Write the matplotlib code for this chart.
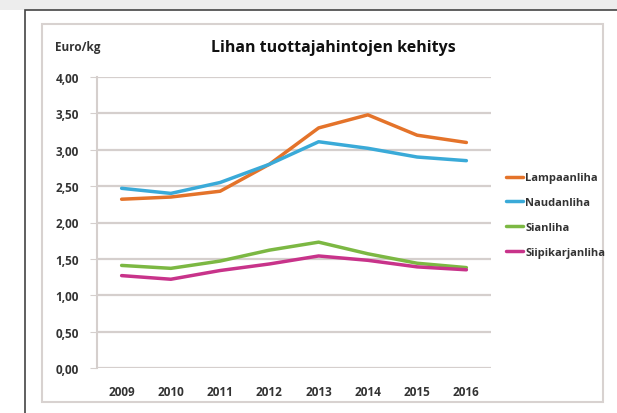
import matplotlib
matplotlib.use("Agg")
import matplotlib.pyplot as plt
from matplotlib.patches import Rectangle

years = ["2009", "2010", "2011", "2012", "2013", "2014", "2015", "2016"]
series_names = ["Lampaanliha", "Naudanliha", "Sianliha", "Siipikarjanliha"]
lampaanliha = [2.32, 2.35, 2.43, 2.80, 3.30, 3.48, 3.20, 3.10]
naudanliha = [2.47, 2.40, 2.55, 2.80, 3.11, 3.02, 2.90, 2.85]
sianliha = [1.41, 1.37, 1.47, 1.62, 1.73, 1.57, 1.44, 1.38]
siipikarjanliha = [1.27, 1.22, 1.34, 1.43, 1.54, 1.48, 1.39, 1.35]
colors = ["#E4732A", "#3AAAD8", "#7CB843", "#C8338A"]
yticks = [0.0, 0.5, 1.0, 1.5, 2.0, 2.5, 3.0, 3.5, 4.0]

W, H = 617, 414
fig = plt.figure(figsize=(W / 100, H / 100), dpi=100, facecolor="white")
plt.rcParams['font.family'] = ['Open Sans', 'DejaVu Sans']

# background strip and frames
fig.patches.append(Rectangle((0, 1 - 11 / H), 1, 11 / H, transform=fig.transFigure,
                             facecolor="#ededed", edgecolor="none", zorder=-2))
fig.patches.append(Rectangle((25 / W, -0.1), 1.0, (H - 11) / H + 0.1, transform=fig.transFigure,
                             facecolor="white", edgecolor="#444444", linewidth=1.2, zorder=-2))
fig.patches.append(Rectangle((42 / W, 11 / H), (603 - 42) / W, (389 - 11) / H, transform=fig.transFigure,
                             facecolor="none", edgecolor="#d8d2d0", linewidth=1.5, zorder=-1))

ax_left, ax_right = 97, 491
ax_top, ax_bottom = 78, 369
ax = fig.add_axes([ax_left / W, 1 - ax_bottom / H, (ax_right - ax_left) / W, (ax_bottom - ax_top) / H])
ax.set_facecolor("none")
ax.set_zorder(2)

x = list(range(len(years)))
for vals, c, name in zip([lampaanliha, naudanliha, sianliha, siipikarjanliha], colors, series_names):
    ax.plot(x, vals, color=c, linewidth=2.5, label=name, solid_capstyle="round", zorder=3)

ax.set_xlim(-0.5, len(years) - 0.5)
ax.set_ylim(0, 4.0)
ax.set_yticks(yticks)
ax.set_yticklabels([f"{v:.2f}".replace(".", ",") for v in yticks])
ax.set_xticks(x)
ax.set_xticklabels(years)
ax.grid(axis="y", color="#d5cfcd", linewidth=1.6, zorder=0)
for s in ["top", "right", "bottom"]:
    ax.spines[s].set_visible(False)
ax.spines["left"].set_color("#d5cfcd")
ax.spines["left"].set_linewidth(1.5)
ax.tick_params(axis="y", length=5, color="#d5cfcd", labelsize=8.5, labelcolor="#333333", pad=8)
ax.tick_params(axis="x", length=0, labelsize=8.5, labelcolor="#333333", pad=12)
for lbl in ax.get_xticklabels() + ax.get_yticklabels():
    lbl.set_fontweight("bold")

fig.text(333 / W, 1 - 48 / H, "Lihan tuottajahintojen kehitys", ha="center", va="center",
         fontsize=11.5, fontweight="bold", color="#111111")
fig.text(55 / W, 1 - 47 / H, "Euro/kg", ha="left", va="center", fontsize=8.5,
         fontweight="bold", color="#333333")

handles, labels = ax.get_legend_handles_labels()
leg = fig.legend(handles, labels, loc="upper left", bbox_to_anchor=(502 / W, 1 - 169 / H),
                 frameon=False, fontsize=8, handlelength=1.5, handletextpad=0.2,
                 labelspacing=1.25, borderaxespad=0)
for t in leg.get_texts():
    t.set_fontweight("bold")
    t.set_color("#333333")

fig.savefig("out.png", dpi=100, facecolor=fig.get_facecolor())
